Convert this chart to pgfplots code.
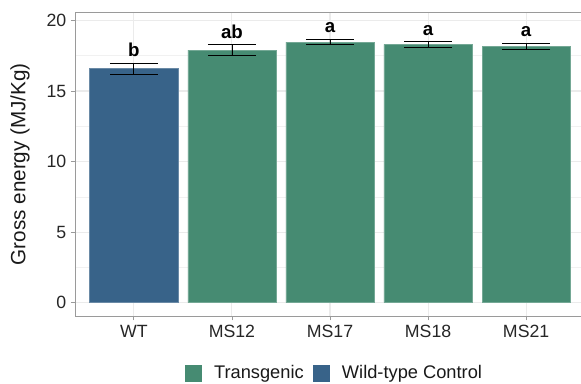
\documentclass[border=0pt]{standalone}
\usepackage{fontspec}
\setmainfont{Liberation Sans}
\usepackage{pgfplots}
\usepackage{pgfplotstable}
\pgfplotsset{compat=1.18}
\definecolor{wtblue}{HTML}{386389}
\definecolor{tgreen}{HTML}{468B72}
\definecolor{gridc}{HTML}{EBEBEB}
\definecolor{axc}{HTML}{9A9A9A}

\pgfplotstableread{
x y err
0 16.59 0.40
}\wt
\pgfplotstableread{
x y err
1 17.89 0.39
2 18.47 0.20
3 18.30 0.19
4 18.15 0.21
}\tg
\pgfplotstableread{
x y lab
0 17.90 b
1 19.16 ab
2 19.52 a
3 19.27 a
4 19.22 a
}\letters

\begin{document}
\begin{tikzpicture}
\begin{axis}[
  scale only axis, width=382.5pt, height=228.375pt,
  xmin=-0.6, xmax=4.6, ymin=-0.98, ymax=20.6,
  xtick={0,1,2,3,4}, xticklabels={WT,MS12,MS17,MS18,MS21},
  ytick={0,5,10,15,20}, minor ytick={2.5,7.5,12.5,17.5},
  grid=both,
  major grid style={gridc, line width=0.8pt},
  minor grid style={gridc!70!white, line width=0.5pt},
  axis line style={axc, line width=0.6pt},
  tick pos=left, tick align=outside,
  major tick length=3pt, minor tick length=0pt,
  tick style={axc, line width=0.6pt},
  ticklabel style={font=\fontsize{13.3}{16}\selectfont, text=black!85},
  /pgf/number format/assume math mode=true,
  ylabel={Gross energy (MJ/Kg)},
  ylabel style={font=\fontsize{15.5}{18}\selectfont, text=black!90, at={(axis description cs:-0.108,0.5)}, anchor=center},
  legend columns=2,
  legend style={at={(axis description cs:0.51,-0.186)}, anchor=center, draw=none, fill=none,
    font=\fontsize{13.7}{16}\selectfont, text=black!90,
    /tikz/every odd column/.append style={column sep=6.7pt},
    /tikz/every even column/.append style={column sep=5.2pt}},
  legend image code/.code={\fill[#1, draw=none] (0pt,-6.4pt) rectangle (12.75pt,6.4pt);},
  error bars/y dir=both, error bars/y explicit,
  error bars/error mark options={rotate=90, mark size=18pt, line width=0.6pt, black},
  error bars/error bar style={black, line width=0.6pt},
]
\addplot[ybar, bar width=0.9, bar shift=0pt, fill=wtblue, draw=wtblue!75!white, line width=0.4pt, forget plot]
  table[x=x, y=y, y error=err] {\wt};
\addplot[ybar, bar width=0.9, bar shift=0pt, fill=tgreen, draw=tgreen!75!white, line width=0.4pt, forget plot]
  table[x=x, y=y, y error=err] {\tg};
\addplot[draw=none, mark=none, forget plot, nodes near coords, point meta=explicit symbolic,
  nodes near coords style={anchor=center, font=\bfseries\fontsize{14}{16}\selectfont, text=black}]
  table[x=x, y=y, meta=lab] {\letters};
\addlegendimage{fill=tgreen, draw=none}
\addlegendentry{Transgenic}
\addlegendimage{fill=wtblue, draw=none}
\addlegendentry{Wild-type Control}
\coordinate (ll) at (rel axis cs:0,0);
\coordinate (ur) at (rel axis cs:1,1);
\end{axis}
\pgfresetboundingbox
\path[use as bounding box] ([xshift=-56.25pt, yshift=-50.625pt]ll) rectangle ([xshift=-3pt, yshift=9pt]ur);
\end{tikzpicture}
\end{document}
